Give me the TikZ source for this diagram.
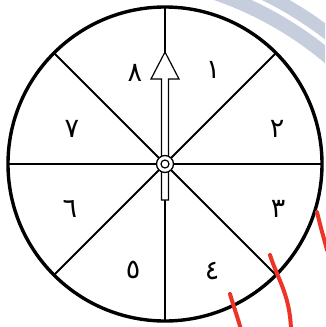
\documentclass[tikz,border=0pt]{standalone}
\usepackage{fontspec}
\newfontfamily\arabicfont[Script=Arabic]{DejaVu Sans}
\usepackage{tikz}
\usetikzlibrary{calc}

\definecolor{wmark}{RGB}{198,205,221}
\definecolor{penred}{RGB}{236,52,40}

\begin{document}
\begin{tikzpicture}[
  x=1pt, y=-1pt,
  rim/.style={line width=3.4pt},
  spoke/.style={line width=2pt},
  pointer/.style={draw,fill=white,line width=1.2pt,line join=miter},
  numnode/.style={font=\arabicfont\fontsize{27}{27}\selectfont,inner sep=0pt},
  hubnode/.style={circle,draw,fill=white,line width=1.3pt,minimum size=17pt,inner sep=0pt},
  scribble/.style={penred,line width=4pt,line cap=round}
]
\useasboundingbox (0,0) rectangle (325,327);

% watermark bands
\begin{scope}
  \clip (0,0) rectangle (325,327);
  \draw[wmark,line width=14pt] (100,330) circle[radius=356pt];
  \draw[wmark,line width=13pt] (100,330) circle[radius=374pt];
\end{scope}

\coordinate (c) at (165,164);

\draw[rim] (c) circle[radius=157pt];
\foreach \a in {0,45,...,315}
  \draw[spoke] (c) -- ++(\a:157);

% numbers
\node[numnode] (n1) at (213,70)  {١};
\node[numnode] (n2) at (277,129) {٢};
\node[numnode] (n3) at (278,209) {٣};
\node[numnode] (n4) at (212,271) {٤};
\node[numnode] (n5) at (133,270) {٥};
\node[numnode] (n6) at (70,209)  {٦};
\node[numnode] (n7) at (72,129)  {٧};
\node[numnode] (n8) at (135,73)  {٨};

% arrow
\draw[pointer] (161.5,200) -- (161.5,79) -- (151,79) -- (165,52)
  -- (179,79) -- (168.5,79) -- (168.5,200) -- cycle;
\node[hubnode] (hub) at (c) {};
\draw[line width=1.2pt] (c) circle[radius=4pt];

% pen marks
\draw[scribble] (230,294) .. controls (234,308) and (238,318) .. (241,330);
\draw[scribble] (270,255) .. controls (278,280) and (290,295) .. (291,330);
\draw[scribble] (317,212) .. controls (320,225) and (323,235) .. (327,250);
\end{tikzpicture}
\end{document}
